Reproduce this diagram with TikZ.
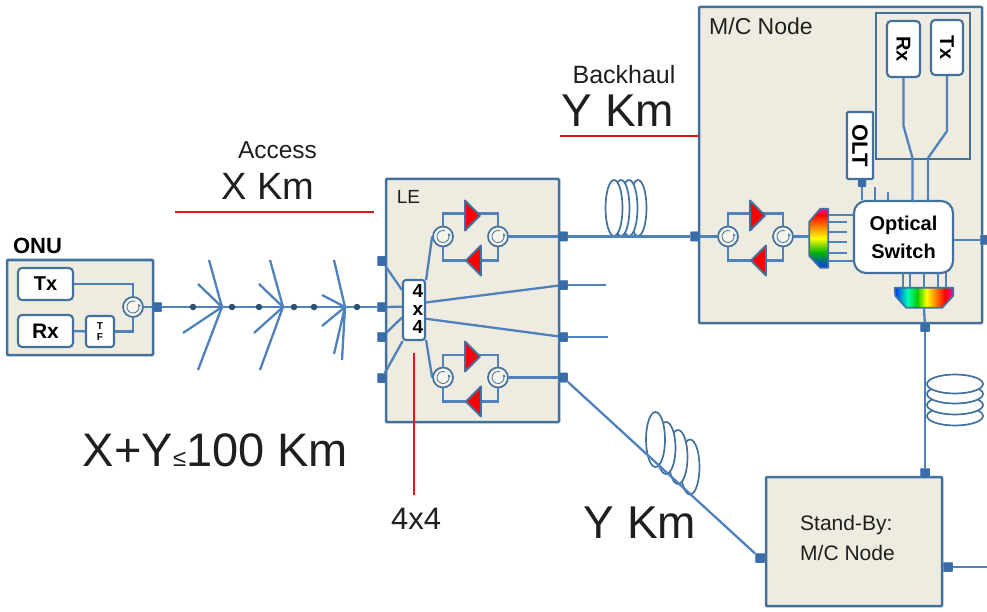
\documentclass[tikz,border=0pt]{standalone}
\usepackage{fontspec}
\setmainfont{Liberation Sans}
\usepackage{tikz}
\usetikzlibrary{arrows.meta, calc}
\definecolor{fibreblue}{HTML}{4F81BD}
\definecolor{boxblue}{HTML}{41719C}
\definecolor{portblue}{HTML}{3A6CA8}
\definecolor{nodebg}{HTML}{EEECE1}
\definecolor{markred}{HTML}{E3161C}
\pgfdeclareverticalshading{rainbowv}{100bp}{color(0bp)=(blue!80!cyan); color(25bp)=(blue!80!cyan); color(38bp)=(green!70!black); color(50bp)=(yellow); color(60bp)=(orange); color(70bp)=(red); color(75bp)=(magenta!70!red); color(100bp)=(magenta!70!red)}
\pgfdeclarehorizontalshading{rainbowh}{100bp}{color(0bp)=(blue!80!cyan); color(25bp)=(blue!80!cyan); color(36bp)=(cyan!70!green); color(44bp)=(green!80!black); color(52bp)=(yellow); color(60bp)=(orange); color(68bp)=(red); color(75bp)=(magenta!70!red); color(100bp)=(magenta!70!red)}
\tikzset{
  txt/.style={inner sep=0pt, text=black!88, font=\fontsize{#1}{#1}\selectfont},
  boldtxt/.style={inner sep=0pt, text=black, font=\bfseries\fontsize{#1}{#1}\selectfont},
  fibre/.style={draw=fibreblue, line width=2.3pt},
  nodebox/.style={draw=boxblue, fill=nodebg, line width=2.5pt, rounded corners=1pt, inner sep=0pt},
  whitebox/.style={draw=boxblue, fill=white, line width=2.1pt, rounded corners=3pt, inner sep=0pt},
  marker/.style={draw=markred, line width=2.3pt},
  portbox/.style={fill=portblue, draw=fibreblue, rounded corners=1pt, minimum size=9.5pt, inner sep=0pt},
  tapdot/.style={circle, fill=boxblue!70!black, minimum size=6.5pt, inner sep=0pt},
  circulator/.style={circle, draw=boxblue, fill=nodebg!60!white, line width=1.7pt, minimum size=20pt, inner sep=0pt,
    path picture={\draw[boxblue, line width=.8pt, -{Stealth[length=3pt,width=3pt]}]
      ([shift={(70:6pt)}]path picture bounding box.center) arc[start angle=70, end angle=390, radius=6pt];}},
  amptri/.style={draw=boxblue, fill=red, line width=1.9pt, line join=round},
  coil/.style={draw=boxblue, fill=white, line width=1.7pt},
  ampstage/.pic={
    \node[circulator] (l) at (-27.5,0) {};
    \node[circulator] (r) at (27.5,0) {};
    \draw[fibre] (l.north) -- ++(0,-12) -| (r.north);
    \draw[fibre] (l.south) -- ++(0,13) -| (r.south);
    \draw[amptri] (-5.5,-36) -- (9.5,-21) -- (-5.5,-6) -- cycle;
    \draw[amptri] (10.5,9) -- (-4.5,24) -- (10.5,39) -- cycle;
  }
}
\begin{document}
\begin{tikzpicture}[x=1pt, y=-1pt]
  \useasboundingbox (0,0) rectangle (987,612);
  % boxes
  \node[nodebox, minimum width=146pt, minimum height=95pt] (onu) at (80,307.5) {};
  \node[nodebox, minimum width=173pt, minimum height=243pt] (le) at (472.5,300.5) {};
  \node[nodebox, minimum width=283pt, minimum height=316pt] (mc) at (840.5,165) {};
  \node[nodebox, minimum width=176pt, minimum height=129pt] (standby) at (854,541.5) {};
  \node[draw=boxblue, line width=2.1pt, minimum width=94pt, minimum height=146pt, inner sep=0pt] (txrx) at (923,86) {};
  % ports
  \foreach \pname/\px/\py in {ponu/157/307, pla/382/261, plb/382/307, plc/382/337, pld/382/378,
      pra/563/236.5, prb/563/285, prc/563/337, prd/563/377.5, pmc/695/236.5, pmr/985/240, pmb/925/327,
      psbt/925/473, psbl/760/558, psbr/948/567}
    \node[portbox] (\pname) at (\px,\py) {};
  % fibres and coils
  \foreach \cx in {638, 629, 621, 614}
    \draw[coil] (\cx,208) ellipse (8.5 and 28);
  \foreach \cy in {416, 405, 394, 384}
    \draw[coil] (955,\cy) ellipse (28 and 9.5);
  \foreach \cx/\cy/\ry in {690/467/27.5, 678/457/27, 666/448/26, 655.5/439.5/27.5}
    \draw[coil] (\cx,\cy) ellipse (9.5 and \ry);
  \draw[fibre] (ponu) -- (plb);
  \foreach \tname/\tx in {ta/222, tb/283, tc/345}
    \coordinate (\tname) at (\tx,307);
  \foreach \ex/\ey in {-13/-47, -24/-23, -39/26, -24/63}
    \draw[fibre] (ta) -- ++(\ex,\ey);
  \foreach \ex/\ey in {-13/-47, -24/-23, -29/26, -23/63}
    \draw[fibre] (tb) -- ++(\ex,\ey);
  \foreach \ex/\ey in {-11/-47, -23/-12, -23/19, -11/47, -3/53}
    \draw[fibre] (tc) -- ++(\ex,\ey);
  \foreach \dx in {193, 232, 259, 294, 314, 357}
    \node[tapdot] at (\dx,307) {};
  \draw[fibre] (pra) -- (pmc);
  \draw[fibre] (prd) -- (psbl);
  \draw[fibre] (pmb) -- (psbt);
  \draw[fibre] (prb) -- ++(43,0) coordinate (endb);
  \draw[fibre] (prc) -- ++(45,0) coordinate (endc);
  \draw[fibre] (psbr) -- ++(39,0) coordinate (endsb);
  % ONU
  \node[whitebox, rounded corners=4pt, minimum width=55pt, minimum height=32pt] (tx) at (45.5,284) {};
  \node[whitebox, rounded corners=4pt, minimum width=55pt, minimum height=32pt] (rx) at (45.5,331) {};
  \node[whitebox, minimum width=28pt, minimum height=31pt] (tf) at (100,331.5) {};
  \node[circulator] (ocirc) at (133,307) {};
  \draw[fibre] (tx) -| (ocirc);
  \draw[fibre] (rx) -- (tf);
  \draw[fibre] (tf) -| (ocirc);
  \draw[fibre] (ocirc) -- (ponu);
  \node[boldtxt=20] (txlab) at (tx) {Tx};
  \node[boldtxt=21] (rxlab) at (rx) {Rx};
  \node[boldtxt=10, align=center] (tflab) at (tf) {T\\[1pt]F};
  \node[boldtxt=22] (onulab) at (37.5,246) {ONU};
  % LE
  \pic (up) at (470.5,236.5) {ampstage};
  \pic (lo) at (470.5,377.5) {ampstage};
  \node[whitebox, minimum width=22pt, minimum height=60pt] (mx) at (414,310) {};
  \node[boldtxt=19, align=center] (mxlab) at (418,309) {4\\[-1pt]x\\[-1pt]4};
  \draw[fibre] (pla) -- (mx.121);
  \draw[fibre] (plb) -- (mx.165);
  \draw[fibre] (plc) -- (mx.212);
  \draw[fibre] (pld) -- (mx.250);
  \draw[fibre] (mx.68) -- (upl.west);
  \draw[fibre] (mx.-68) -- (lol.west);
  \draw[fibre] (mx.32) -- (prb);
  \draw[fibre] (mx.-36) -- (prc);
  \draw[fibre] (upr.east) -- (pra);
  \draw[fibre] (lor.east) -- (prd);
  \node[txt=19] (lelab) at (408.5,197) {LE};
  % M/C node
  \pic (mcs) at (755.5,236.5) {ampstage};
  \node[whitebox, rounded corners=12pt, minimum width=99pt, minimum height=72pt, align=center,
    font=\bfseries\fontsize{20}{28}\selectfont] (sw) at (903.5,237) {Optical\\Switch};
  \node[whitebox, rounded corners=4pt, minimum width=33pt, minimum height=56pt] (rxm) at (903.5,49) {};
  \node[whitebox, rounded corners=4pt, minimum width=32pt, minimum height=55pt] (txm) at (947,47.5) {};
  \node[whitebox, rounded corners=1pt, minimum width=26pt, minimum height=67pt] (olt) at (860,145.5) {};
  \node[boldtxt=20, rotate=-90] (rxmlab) at (rxm) {Rx};
  \node[boldtxt=20, rotate=-90] (txmlab) at (txm) {Tx};
  \node[boldtxt=22, rotate=-90] (oltlab) at (olt) {OLT};
  \node[portbox, minimum size=8pt] (polt) at (862,183) {};
  \draw[fibre] (polt) -- (polt |- sw.north);
  \draw[fibre] (rxm.south) -- ++(0,48) -- ++(9,32) -- ++(0,44);
  \draw[fibre] (txm.south) -- ++(0,55) -- ++(-19,27) -- ++(0,44);
  \foreach \sx/\sy in {875/187, 888/192}
    \draw[fibre, line width=1.6pt] (\sx,\sy) -- (\sx,201);
  \node[minimum width=19pt, minimum height=59pt, inner sep=0pt] (demux) at (818.5,238.5) {};
  \foreach \ly/\lx in {215/854, 222/847, 232/847, 242/847, 253/847, 261/854}
    \draw[fibre, line width=1.8pt] (demux.east |- 0,\ly) -- (\lx,\ly);
  \shadedraw[shading=rainbowv, draw=boxblue, line width=1.7pt, line join=round]
    (demux.north east) -- ++(-8,0) -- ++(-11,13) -- ++(0,34) -- ++(11,12) -- ++(8,0) -- cycle;
  \node[minimum width=58pt, minimum height=20pt, inner sep=0pt] (mux) at (924,298) {};
  \foreach \lx in {903, 910, 924, 938, 946}
    \draw[fibre, line width=1.8pt] (\lx,273) -- (mux.north -| \lx,0);
  \shadedraw[shading=rainbowh, draw=boxblue, line width=1.7pt, line join=round]
    (mux.north west) -- (mux.north east) -- ++(0,8) -- ++(-11,12) -- ++(-36,0) -- ++(-11,-12) -- cycle;
  \draw[fibre] (pmc) -- (mcsl.west);
  \draw[fibre] (mcsr.east) -- (demux.west |- mcsr);
  \draw[fibre] (sw.east |- pmr) -- (pmr);
  \draw[fibre] (mux.south) -- (pmb);
  \node[txt=23, anchor=west] (mclab) at (709,26) {M/C Node};
  % standby
  \node[txt=21, anchor=west] (sblab) at (800,525) {Stand-By:};
  \node[txt=21, anchor=west] (sblabb) at (800,553) {M/C Node};
  % distances
  \node[txt=24.5] (acclab) at (277.5,150) {Access};
  \node[txt=38] (xkm) at (268,186) {X Km};
  \node[txt=25] (backlab) at (624,75) {Backhaul};
  \node[txt=46] (ykm) at (618,111) {Y Km};
  \node[txt=46] (ykmb) at (640,523) {Y Km};
  \node[txt=31] (fourlab) at (416,519) {4x4};
  \node[txt=47] (sumlab) at (215.5,450) {X+Y{\fontsize{24}{24}\selectfont ≤}100 Km};
  \coordinate (ma) at (175,212);
  \coordinate (mb) at (374,212);
  \coordinate (mc1) at (560,136);
  \coordinate (mc2) at (699,136);
  \coordinate (md) at (414,353);
  \coordinate (me) at (414,495);
  \draw[marker] (ma) -- (mb);
  \draw[marker] (mc1) -- (mc2);
  \draw[marker] (md) -- (me);
\end{tikzpicture}
\end{document}
